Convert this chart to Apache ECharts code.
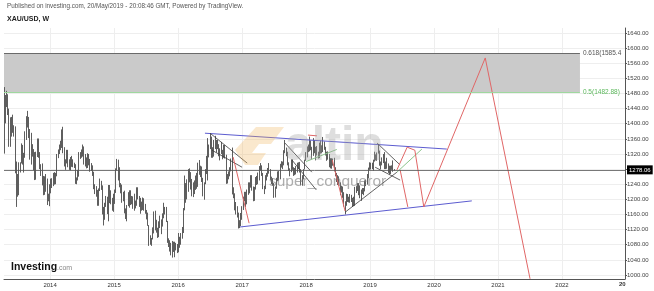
<!DOCTYPE html>
<html><head><meta charset="utf-8">
<script src="https://cdn.jsdelivr.net/npm/echarts@6/dist/echarts.min.js"></script>
<style>html,body{margin:0;padding:0;background:#fff}#c{width:654px;height:291px}</style>
</head><body><div id="c"></div>
<script>
// weekly bars [low, high, close], weeks starting Mon 15 Apr 2013
const w2013 = [[1321,1497,1405],[1401,1476,1462],[1444,1487,1470],[1423,1478,1435],[1339,1440,1386],[1339,1417,1387],[1366,1418,1392],[1376,1424,1383],[1366,1396,1389],[1269,1393,1292],[1180,1300,1234],[1207,1267,1223],[1211,1298,1277],[1271,1298,1295],[1295,1348,1322],[1292,1344,1310],[1271,1323,1312],[1310,1380,1376],[1357,1420,1395],[1390,1434,1395],[1362,1418,1387],[1305,1386,1308],[1292,1376,1333],[1313,1346,1339],[1277,1333,1310],[1251,1325,1272],[1252,1326,1315],[1312,1361,1352],[1310,1361,1315],[1280,1325,1287],[1262,1293,1288],[1237,1295,1244],[1211,1262,1253],[1212,1261,1230],[1220,1267,1234],[1185,1255,1205],[1195,1215,1213],[1182,1240,1237]];
const w2014 = [[1216,1255,1252],[1230,1256,1254],[1235,1270,1270],[1239,1272,1240],[1240,1270,1262],[1261,1320,1318],[1309,1332,1324],[1320,1345,1329],[1330,1355,1338],[1336,1385,1379],[1322,1392,1335],[1287,1338,1294],[1278,1306,1303],[1295,1331,1318],[1285,1331,1293],[1278,1306,1300],[1277,1312,1302],[1286,1315,1290],[1285,1306,1293],[1283,1297,1292],[1241,1293,1250],[1240,1258,1252],[1250,1278,1274],[1260,1325,1316],[1307,1325,1316],[1310,1332,1320],[1313,1345,1338],[1292,1340,1310],[1287,1320,1308],[1282,1311,1294],[1283,1322,1310],[1290,1320,1305],[1273,1307,1280],[1275,1296,1287],[1262,1290,1268],[1227,1273,1230],[1214,1240,1216],[1207,1235,1218],[1183,1225,1192],[1183,1229,1222],[1222,1255,1238],[1225,1249,1231],[1160,1237,1171],[1131,1180,1169],[1146,1191,1190],[1180,1209,1197],[1161,1207,1175],[1142,1238,1191],[1190,1238,1222],[1187,1224,1196],[1170,1204,1195],[1167,1215,1186]];
const w2015 = [[1188,1226,1223],[1217,1282,1277],[1277,1307,1293],[1250,1305,1279],[1232,1285,1234],[1216,1243,1227],[1191,1239,1204],[1195,1220,1213],[1163,1223,1165],[1148,1176,1152],[1142,1185,1183],[1182,1219,1200],[1178,1224,1212],[1185,1224,1204],[1187,1209,1204],[1175,1208,1179],[1170,1215,1178],[1176,1197,1189],[1183,1232,1225],[1200,1232,1204],[1180,1209,1190],[1162,1204,1168],[1170,1194,1180],[1172,1205,1201],[1170,1203,1173],[1162,1188,1168],[1147,1172,1157],[1130,1165,1131],[1077,1132,1096],[1080,1105,1094],[1077,1098,1094],[1094,1126,1113],[1110,1168,1160],[1118,1170,1134],[1112,1146,1121],[1098,1125,1103],[1100,1142,1138],[1124,1157,1145],[1108,1147,1137],[1128,1163,1155],[1150,1191,1176],[1160,1180,1162],[1140,1180,1142],[1085,1143,1088],[1074,1097,1081],[1062,1092,1076],[1052,1085,1056],[1046,1090,1086],[1061,1088,1076],[1047,1088,1065],[1065,1085,1075],[1058,1082,1060]];
const w2016 = [[1060,1111,1103],[1072,1101,1089],[1080,1111,1097],[1096,1127,1117],[1111,1177,1173],[1171,1263,1238],[1191,1243,1226],[1200,1253,1220],[1220,1280,1271],[1245,1282,1249],[1226,1272,1254],[1208,1254,1220],[1206,1245,1222],[1214,1250,1238],[1225,1263,1234],[1228,1270,1233],[1233,1297,1290],[1265,1304,1290],[1259,1289,1272],[1246,1287,1252],[1208,1257,1216],[1199,1245,1243],[1240,1280,1275],[1267,1315,1298],[1250,1362,1322],[1311,1345,1340],[1333,1375,1366],[1310,1366,1327],[1310,1338,1323],[1313,1357,1351],[1333,1368,1335],[1324,1357,1337],[1333,1357,1341],[1314,1346,1321],[1303,1335,1327],[1320,1352,1328],[1306,1331,1310],[1310,1344,1338],[1308,1344,1316],[1241,1318,1257],[1242,1267,1251],[1253,1274,1267],[1261,1285,1276],[1274,1308,1304],[1213,1337,1225],[1203,1232,1208],[1171,1216,1178],[1160,1193,1177],[1152,1182,1160],[1123,1165,1134],[1124,1145,1132],[1129,1164,1152]];
const w2017 = [[1146,1182,1173],[1172,1207,1196],[1195,1220,1204],[1180,1220,1190],[1187,1226,1220],[1212,1245,1234],[1216,1245,1238],[1231,1264,1257],[1223,1264,1226],[1195,1234,1201],[1196,1233,1229],[1226,1259,1244],[1238,1262,1249],[1240,1271,1254],[1250,1288,1285],[1276,1296,1287],[1262,1290,1268],[1227,1270,1228],[1214,1236,1229],[1227,1264,1254],[1250,1270,1268],[1260,1283,1279],[1268,1296,1271],[1251,1280,1254],[1240,1260,1256],[1236,1256,1242],[1204,1243,1209],[1205,1234,1228],[1228,1257,1254],[1248,1274,1269],[1250,1275,1258],[1253,1294,1290],[1284,1301,1285],[1280,1300,1291],[1290,1330,1325],[1322,1357,1346],[1314,1337,1320],[1290,1326,1297],[1275,1298,1280],[1261,1282,1275],[1272,1306,1305],[1278,1306,1280],[1262,1285,1266],[1264,1283,1269],[1266,1288,1275],[1271,1297,1294],[1280,1298,1287],[1271,1299,1280],[1237,1280,1248],[1236,1264,1257],[1253,1280,1279],[1279,1305,1303]];
const w2018 = [[1302,1325,1321],[1311,1340,1338],[1325,1345,1331],[1327,1366,1351],[1330,1356,1334],[1307,1339,1315],[1315,1362,1347],[1322,1357,1330],[1303,1339,1322],[1316,1341,1323],[1308,1326,1312],[1309,1350,1346],[1321,1356,1323],[1322,1343,1332],[1325,1365,1345],[1331,1353,1335],[1316,1339,1323],[1302,1326,1314],[1305,1327,1318],[1285,1320,1291],[1282,1309,1303],[1281,1309,1294],[1289,1308,1298],[1274,1310,1279],[1261,1285,1269],[1246,1270,1253],[1238,1264,1241],[1236,1261,1241],[1211,1245,1231],[1218,1236,1223],[1204,1234,1214],[1181,1219,1184],[1160,1195,1184],[1183,1215,1206],[1193,1214,1201],[1192,1207,1196],[1191,1214,1195],[1193,1212,1199],[1180,1204,1192],[1182,1207,1203],[1183,1233,1221],[1217,1235,1227],[1222,1243,1233],[1211,1243,1232],[1203,1237,1208],[1196,1226,1222],[1214,1230,1223],[1211,1230,1220],[1221,1250,1248],[1235,1252,1238],[1239,1267,1257],[1256,1284,1279],[1278,1298,1287]];
const w2019 = [[1279,1297,1289],[1280,1297,1282],[1276,1305,1303],[1300,1326,1318],[1303,1319,1314],[1302,1324,1322],[1321,1346,1328],[1289,1329,1293],[1280,1300,1298],[1290,1311,1302],[1296,1320,1313],[1280,1325,1292],[1280,1300,1290],[1281,1310,1290],[1270,1295,1275],[1266,1289,1286],[1267,1289,1281],[1278,1290,1286],[1273,1303,1277],[1276,1280,1278]];
const firstOpen = 1476;

const xTicks = [2014,2015,2016,2017,2018,2019,2020,2021,2022];
const yTicks = [1000,1040,1080,1120,1160,1200,1240,1280,1320,1360,1400,1440,1480,1520,1560,1600,1640];
const lastPrice = 1278.06;
const fib618 = 1585.4, fib50 = 1482.88, fibEndYear = 2022.28;

// annotation drawings [decimal year, price]
const blueLines = [[[2016.42,1375],[2020.20,1333]], [[2016.97,1127],[2020.59,1196]]];
const blackLines = [
  [[2016.50,1375],[2017.08,1296]],
  [[2016.53,1330],[2017.00,1285]],
  [[2017.67,1349],[2018.09,1272]],
  [[2017.78,1304],[2018.16,1225]],
  [[2018.61,1166],[2019.42,1272]],
  [[2019.11,1349],[2019.47,1291]],
  [[2019.08,1285],[2019.47,1251]]
];
const greenLines = [[[2018.0,1300],[2018.48,1332]], [[2019.42,1272],[2019.81,1333]]];
const redPath = [[2019.42,1278],[2019.58,1338],[2019.70,1330],[2019.84,1180],[2020.80,1574],[2021.50,990]];
const redArrows = [[[2016.86,1312],[2017.11,1137]], [[2018.41,1304],[2018.61,1169]], [[2019.47,1278],[2019.59,1180]]];
const redShort = [[[2018.03,1370],[2018.17,1368]]];

const labelsBlue = [['A',2013.42,1180],['B',2013.70,1460],['C',2015.95,1034]];
const labelsRed = [['A',2015.95,1005],['B',2020.84,1595]];
const labelsBlack = [['A',2016.94,1103],['B',2018.14,1397],['C',2018.62,1140],['D',2019.13,1370],['E',2019.72,1164]];
const symbolLabel = [['XAUUSD',2017.95,1534]];

const xMin = 2013.28, xMax = 2022.984, yMin = 989.4, yMax = 1653.2;

function decYear(ms){
  const d = new Date(ms), Y = d.getUTCFullYear();
  const a = Date.UTC(Y,0,1), b = Date.UTC(Y+1,0,1);
  return Y + (ms - a) / (b - a);
}
const start = Date.UTC(2013,3,15);
const weeks = [].concat(w2013,w2014,w2015,w2016,w2017,w2018,w2019);
let prev = firstOpen;
const candles = weeks.map((w,i)=>{
  const o = prev; prev = w[2];
  return [decYear(start + i*7*86400000), o, w[2], w[0], w[1]];
});

const FONT = 'Liberation Sans, Arial, sans-serif';
function segSeries(list, color, width, arrow){
  return {type:'lines', coordinateSystem:'cartesian2d', polyline:true, silent:true, z:4,
    symbol: arrow ? ['none','arrow'] : ['none','none'], symbolSize: 6,
    lineStyle:{color:color, width:width, opacity:1},
    data: list.map(c=>({coords:c}))};
}
function labelSeries(list, color, size, family, weight, extra){
  return {type:'scatter', symbolSize:1, silent:true, z:6, itemStyle:{opacity:0},
    data: list.map(l=>({name:l[0], value:[l[1],l[2]]})),
    label: Object.assign({show:true, position:'inside', formatter:'{b}', color:color, fontSize:size, fontFamily:family, fontWeight:weight}, extra||{})};
}

const chart = echarts.init(document.getElementById('c'), null, {renderer:'canvas'});
chart.setOption({
  animation:false,
  backgroundColor:'#ffffff',
  textStyle:{fontFamily:FONT},
  grid:{left:4, right:29, top:28, bottom:12},
  xAxis:{type:'value', min:xMin, max:xMax,
    axisLine:{show:true, onZero:false, lineStyle:{color:'#555', width:1}},
    axisTick:{show:true, length:0, customValues:xTicks},
    axisLabel:{customValues:xTicks, fontSize:6, color:'#333', margin:3, fontFamily:FONT, formatter:v=>String(Math.round(v))},
    splitLine:{show:true, lineStyle:{color:'#eeeeee', width:1}}},
  yAxis:{type:'value', position:'right', min:yMin, max:yMax,
    axisLine:{show:true, lineStyle:{color:'#555', width:1}},
    axisTick:{show:true, length:2, customValues:yTicks, lineStyle:{color:'#555'}},
    axisLabel:{customValues:yTicks, fontSize:6, color:'#444', margin:2, fontFamily:FONT, formatter:v=>v.toFixed(2)},
    splitLine:{show:true, lineStyle:{color:'#eeeeee', width:1}}},
  series:[
    {type:'line', data:[], z:1, silent:true,
      markArea:{silent:true, itemStyle:{color:'#cacaca'},
        data:[[{coord:[xMin,fib50]},{coord:[fibEndYear,fib618]}]]},
      markLine:{silent:true, symbol:['none','none'], animation:false,
        data:[
          [{coord:[xMin,fib618], lineStyle:{color:'#6a6a6a', width:1, type:'solid'},
            label:{show:true, position:'end', distance:3, formatter:'0.618(1585.4', color:'#555', fontSize:6.5, fontFamily:FONT}},
           {coord:[fibEndYear,fib618]}],
          [{coord:[xMin,fib50], lineStyle:{color:'#9fd89f', width:1, type:'solid'},
            label:{show:true, position:'end', distance:3, formatter:'0.5(1482.88)', color:'#5cb85c', fontSize:6.5, fontFamily:FONT}},
           {coord:[fibEndYear,fib50]}],
          {yAxis:lastPrice, lineStyle:{color:'#555', width:0.8, type:'solid'},
            label:{show:true, position:'end', distance:2, formatter:lastPrice.toFixed(2), color:'#fff', backgroundColor:'#000', padding:[2,2,1,2], fontSize:6, fontFamily:FONT}}
        ]}},
    {type:'candlestick', data:candles, encode:{x:0, y:[1,2,3,4]}, z:2, silent:true, barWidth:1,
      itemStyle:{color:'#5e5e5e', color0:'#5e5e5e', borderColor:'#5e5e5e', borderColor0:'#5e5e5e', borderWidth:1}},
    segSeries(blueLines, '#5c5cd0', 1, false),
    segSeries(blackLines, '#3a3a3a', 0.8, false),
    segSeries(greenLines, '#8cc48c', 1, false),
    segSeries([redPath], '#e06666', 1, false),
    segSeries(redArrows, '#e06666', 1, true),
    segSeries(redShort, '#e06666', 1, false),
    labelSeries(labelsBlue, '#3434a8', 9, FONT, 'bold'),
    labelSeries(labelsRed, '#e03030', 9, FONT, 'bold'),
    labelSeries(labelsBlack, '#111', 9.5, 'Liberation Serif, Times New Roman, serif', 'normal'),
    labelSeries(symbolLabel, '#3434b0', 8.5, FONT, 'bold', {textBorderColor:'#fff', textBorderWidth:2})
  ],
  graphic:[
    {type:'text', left:7, top:3, silent:true, style:{text:'Published on investing.com, 20/May/2019 - 20:08:46 GMT, Powered by TradingView.', fontSize:6.3, fill:'#555', fontFamily:FONT}},
    {type:'text', left:7, top:16, silent:true, style:{text:'XAU/USD, W', fontSize:7, fontWeight:'bold', fill:'#222', fontFamily:FONT}},
    {type:'polygon', silent:true, z:10, shape:{points:[[245,165],[235,150],[256,127],[284,127],[271,144],[259,144],[252,153],[266,153],[258,165]]}, style:{fill:'rgba(240,180,90,0.3)'}},
    {type:'text', x:285, y:147, silent:true, z:10, style:{text:'altin', fontSize:48, fontWeight:'bold', fill:'rgba(160,160,160,0.35)', fontFamily:FONT, verticalAlign:'middle'}},
    {type:'text', x:269, y:182, silent:true, z:10, style:{text:'super_conqueror', fontSize:15.5, fill:'rgba(120,120,120,0.6)', fontFamily:FONT, verticalAlign:'middle'}},
    {type:'text', left:11, top:262, silent:true, style:{text:'Investing', fontSize:10.5, fontWeight:'bold', fill:'#111', fontFamily:FONT}},
    {type:'text', left:57, top:265, silent:true, style:{text:'.com', fontSize:7, fill:'#888', fontFamily:FONT}},
    {type:'text', left:619, top:281, silent:true, style:{text:'20', fontSize:6, fontWeight:'bold', fill:'#333', fontFamily:FONT}}
  ]
});
</script>
</body></html>
